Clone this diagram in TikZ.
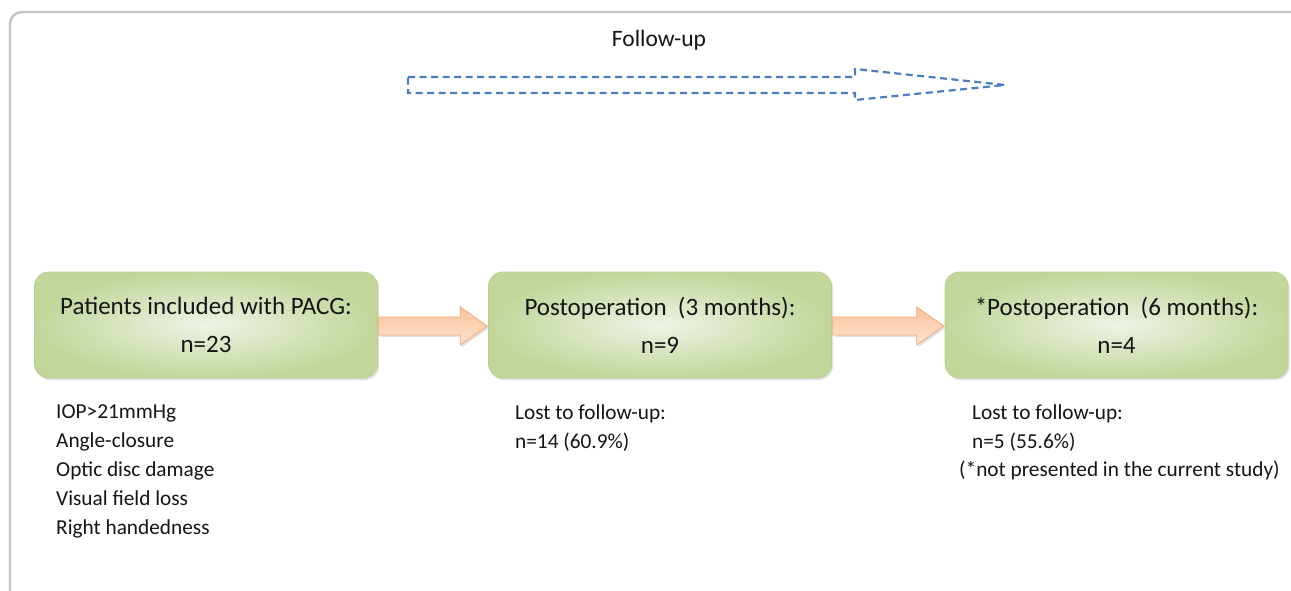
\documentclass[tikz,border=0pt]{standalone}
\usepackage{fontspec}
\setmainfont{Carlito}
\usetikzlibrary{calc,shadows}
\definecolor{framegray}{HTML}{C4C4C4}
\definecolor{greenout}{HTML}{C2D69B}
\definecolor{greenin}{HTML}{EEF3E4}
\definecolor{greenedge}{HTML}{B9CF8E}
\definecolor{orangetop}{HTML}{F9C39B}
\definecolor{orangebot}{HTML}{FDE3D0}
\definecolor{orangeedge}{HTML}{F5A878}
\definecolor{dashblue}{HTML}{4A7EBF}
\definecolor{txt}{HTML}{151515}
\tikzset{
  stagebox/.style={rounded corners=14pt, minimum width=343pt, minimum height=106pt,
    inner color=greenin, outer color=greenout, draw=greenedge, line width=0.6pt,
    align=center, text=txt, font=\fontsize{25}{38}\selectfont,
    drop shadow={shadow xshift=1.5pt, shadow yshift=-2pt, opacity=0.25}},
  note/.style={anchor=base west, align=left, text=txt, inner sep=0pt,
    font=\fontsize{21.3}{29}\selectfont},
  blockarrow/.style={top color=orangetop, bottom color=orangebot, draw=orangeedge, line width=0.8pt},
  arrowshadow/.style={fill=black, opacity=0.12},
}
\newcommand\myblockarrow[2]{%
  \path let \p1=(#1.east), \p2=(#2.west) in
    [arrowshadow] (\x1+3pt,\y1+6pt) -- (\x2-26pt,\y1+6pt) -- (\x2-26pt,\y1+16pt)
    -- (\x2+1pt,\y1-3pt) -- (\x2-26pt,\y1-22pt) -- (\x2-26pt,\y1-12pt) -- (\x1+3pt,\y1-12pt) -- cycle;
  \path let \p1=(#1.east), \p2=(#2.west) in
    [blockarrow] (\x1+1pt,\y1+8pt) -- (\x2-28pt,\y1+8pt) -- (\x2-28pt,\y1+18pt)
    -- (\x2-1pt,\y1-1pt) -- (\x2-28pt,\y1-20pt) -- (\x2-28pt,\y1-10pt) -- (\x1+1pt,\y1-10pt) -- cycle;
}
\begin{document}
\begin{tikzpicture}[x=1pt,y=-1pt]
\useasboundingbox[fill=white] (0,0) rectangle (1291,591);
% outer frame
\draw[framegray, line width=2.4pt, rounded corners=12pt] (10,620) -- (10,12) -- (1320,12);
% follow-up header
\node[text=txt, font=\fontsize{23.5}{26}\selectfont] (fu) at (659,40) {Follow-up};
\draw[dashblue, line width=2.2pt, dash pattern=on 7pt off 4.5pt]
  (408,77) -- (855,77) -- (855,69) -- (1005,85) -- (855,100) -- (855,93) -- (408,93) -- cycle;
% boxes
\node[stagebox] (b1) at (206,325) {Patients included with PACG:\\n=23};
\node[stagebox] (b2) at (660,325) {Postoperation~ (3 months):\\n=9};
\node[stagebox] (b3) at (1116.5,325) {*Postoperation~ (6 months):\\n=4};
% arrows
\myblockarrow{b1}{b2}
\myblockarrow{b2}{b3}
% notes (anchored at the baseline of their last line)
\node[note] (n1) at (56,534) {IOP>21mmHg\\Angle-closure\\Optic disc damage\\Visual field loss\\Right handedness};
\node[note] (n2) at (515,448) {Lost to follow-up:\\n=14 (60.9\%)};
\node[note] (n3) at (972,448) {Lost to follow-up:\\n=5 (55.6\%)};
\node[note] (n4) at (959,476) {(*not presented in the current study)};
\end{tikzpicture}
\end{document}
